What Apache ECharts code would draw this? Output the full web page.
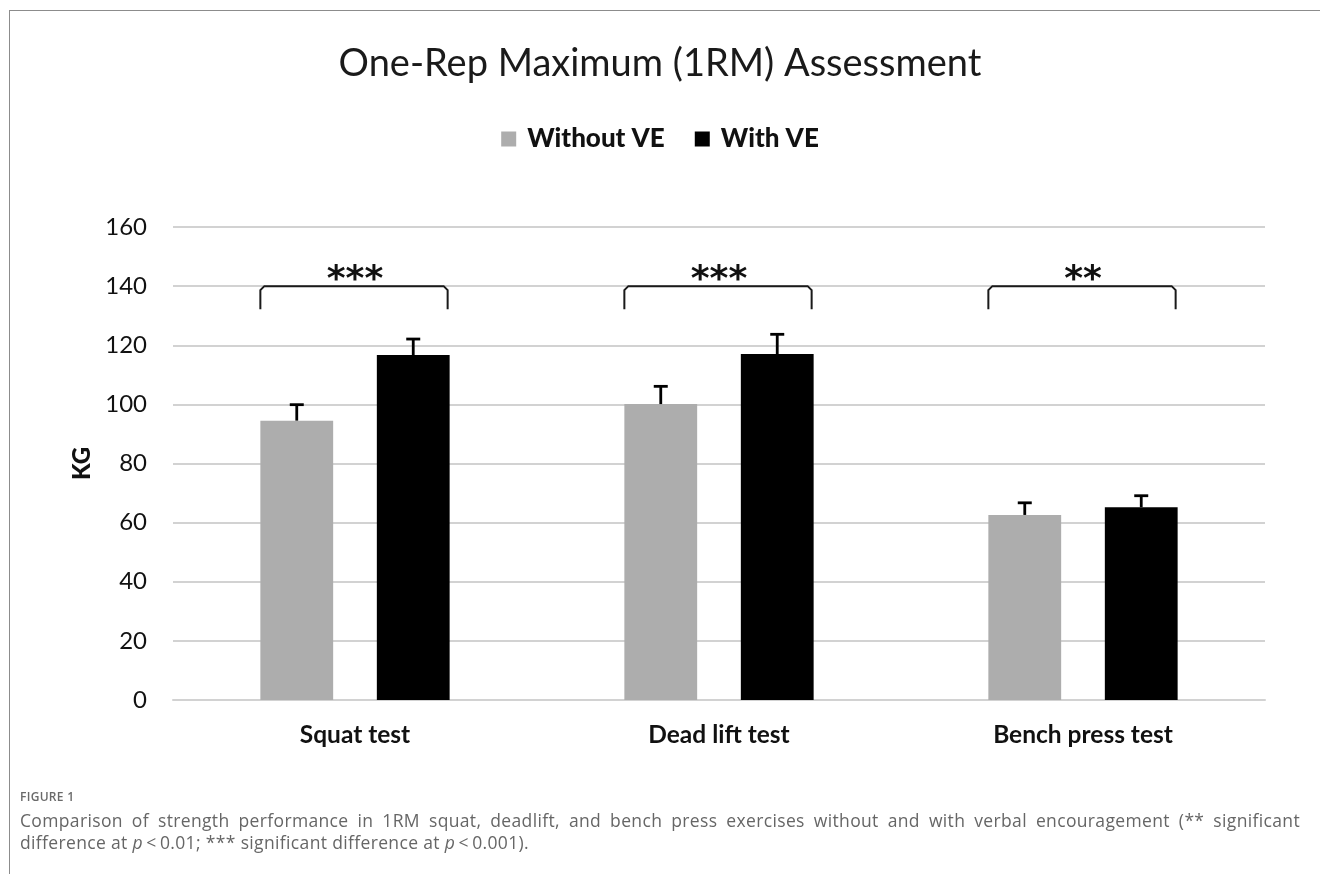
<!DOCTYPE html>
<html>
<head>
<meta charset="utf-8">
<script src="https://cdn.jsdelivr.net/npm/echarts@6/dist/echarts.min.js"></script>
<style>
  html, body { margin: 0; padding: 0; background: #fff; }
  #page { position: relative; width: 1320px; height: 874px; overflow: hidden; }
  #frame { position: absolute; left: 9px; top: 10px; width: 1320px; height: 900px;
           border-top: 1px solid #8c8c8c; border-left: 1px solid #8c8c8c; }
  #chart { position: absolute; left: 0; top: 0; width: 1320px; height: 874px; }
  #caption { position: absolute; left: 20px; top: 788px; width: 1280px;
             font-family: "Open Sans", sans-serif; color: #666; }
  #caption .fig { font-size: 12px; font-weight: 600; color: #6a6a6a; letter-spacing: 0.3px; line-height: 18px; }
  #caption .line { font-size: 17.5px; letter-spacing: 0.35px; line-height: 22px; white-space: nowrap; }
  #caption .first { margin-top: 3px; }
  #caption .just { text-align: justify; text-align-last: justify; }
</style>
</head>
<body>
<div id="page">
  <div id="frame"></div>
  <div id="chart"></div>
  <div id="caption">
    <div class="fig">FIGURE 1</div>
    <div class="line just first">Comparison of strength performance in 1RM squat, deadlift, and bench press exercises without and with verbal encouragement (** significant</div>
    <div class="line">difference at <i>p</i>&thinsp;&lt;&thinsp;0.01; *** significant difference at <i>p</i>&thinsp;&lt;&thinsp;0.001).</div>
  </div>
</div>
<script>
// Tests and group results (kg)
const categories = ['Squat test', 'Dead lift test', 'Bench press test'];
const seriesNames = ['Without VE', 'With VE'];
const withoutVE = [94.5, 100.1, 62.6];
const withVE = [116.7, 117.0, 65.2];
const withoutVESd = [5.4, 6.0, 4.1];
const withVESd = [5.4, 6.7, 3.9];
const sigLevel = [140, 140, 140];
const sigStars = ['***', '***', '**'];
const yTicks = [0, 20, 40, 60, 80, 100, 120, 140, 160];

const FONT = 'Lato, "Open Sans", sans-serif';
const BAR_W = 0.20;   // bar width as a share of the category band
const GAP = 0.60;     // gap between the two bars, as a share of bar width
const OFFSET = BAR_W / 2 + (BAR_W * GAP) / 2;

function errorBarSeries(means, sds, side) {
  return {
    type: 'custom',
    z: 5,
    silent: true,
    data: means.map((m, i) => [i, m, sds[i]]),
    renderItem: function (params, api) {
      const i = api.value(0);
      const band = api.size([1, 0])[0];
      const base = api.coord([i, api.value(1)]);
      const top = api.coord([i, api.value(1) + api.value(2)]);
      const x = base[0] + side * OFFSET * band;
      const cap = 7;
      return {
        type: 'group',
        children: [
          { type: 'line', shape: { x1: x, y1: base[1], x2: x, y2: top[1] },
            style: { stroke: '#000', lineWidth: 2.8 } },
          { type: 'line', shape: { x1: x - cap, y1: top[1], x2: x + cap, y2: top[1] },
            style: { stroke: '#000', lineWidth: 2.8 } }
        ]
      };
    }
  };
}

const chart = echarts.init(document.getElementById('chart'), null, { renderer: 'canvas' });

chart.setOption({
  animation: false,
  backgroundColor: 'transparent',
  title: {
    text: 'One-Rep Maximum (1RM) Assessment',
    left: 'center',
    top: 40,
    textStyle: { fontFamily: FONT, fontSize: 38, fontWeight: 'normal', color: '#1a1a1a' }
  },
  legend: {
    top: 121,
    left: 'center',
    itemWidth: 15,
    itemHeight: 15,
    itemGap: 30,
    icon: 'rect',
    data: seriesNames,
    textStyle: { fontFamily: FONT, fontSize: 26, fontWeight: 900, color: '#111', padding: [0, 0, 0, 6] }
  },
  grid: { left: 173, right: 55, top: 227, bottom: 174 },
  xAxis: {
    type: 'category',
    data: categories,
    axisLine: { show: true, lineStyle: { color: '#d2d2d2', width: 2 } },
    axisTick: { show: false },
    axisLabel: { fontFamily: FONT, fontSize: 24.5, fontWeight: 'bold', color: '#111', margin: 23 }
  },
  yAxis: {
    type: 'value',
    min: yTicks[0],
    max: yTicks[yTicks.length - 1],
    interval: yTicks[1] - yTicks[0],
    name: 'KG',
    nameLocation: 'middle',
    nameGap: 73,
    nameRotate: 90,
    nameTextStyle: { fontFamily: FONT, fontSize: 24, fontWeight: 900, color: '#111' },
    axisLine: { show: false },
    axisTick: { show: false },
    axisLabel: { fontFamily: FONT, fontSize: 24, color: '#111', margin: 26 },
    splitLine: { lineStyle: { color: '#d2d2d2', width: 2 } }
  },
  series: [
    {
      name: seriesNames[0], type: 'bar', data: withoutVE,
      barWidth: (BAR_W * 100) + '%', barGap: (GAP * 100) + '%',
      itemStyle: { color: '#adadad' }
    },
    {
      name: seriesNames[1], type: 'bar', data: withVE,
      barWidth: (BAR_W * 100) + '%',
      itemStyle: { color: '#000000' }
    },
    errorBarSeries(withoutVE, withoutVESd, -1),
    errorBarSeries(withVE, withVESd, 1),
    {
      // significance brackets spanning both bars of each test
      type: 'custom',
      z: 6,
      silent: true,
      data: sigLevel.map((v, i) => [i, v]),
      renderItem: function (params, api) {
        const i = api.value(0);
        const band = api.size([1, 0])[0];
        const p = api.coord([i, api.value(1)]);
        const half = (BAR_W + BAR_W * GAP / 2) * band;
        const x1 = p[0] - half, x2 = p[0] + half - 2;
        const y = p[1], drop = 23, r = 4;
        return {
          type: 'group',
          children: [
            { type: 'polyline',
              shape: { points: [[x1, y + drop], [x1, y + r], [x1 + r, y], [x2 - r, y], [x2, y + r], [x2, y + drop]] },
              style: { stroke: '#1a1a1a', lineWidth: 2, fill: null } },
            { type: 'text',
              style: { text: sigStars[params.dataIndex], x: p[0], y: y - 5,
                       align: 'center', verticalAlign: 'middle',
                       fontFamily: 'DejaVu Sans, sans-serif', fontWeight: 'bold', fontSize: 36, fill: '#111' } }
          ]
        };
      }
    }
  ]
});
</script>
</body>
</html>
